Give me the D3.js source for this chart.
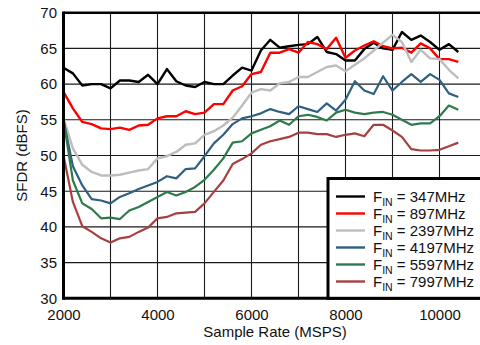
<!DOCTYPE html>
<html>
<head>
<meta charset="utf-8">
<script src="https://cdn.jsdelivr.net/npm/d3@7/dist/d3.min.js"></script>
<style>
  html, body { margin: 0; padding: 0; background: #fff; }
  svg { display: block; font-family: "Liberation Sans", Arial, Helvetica, sans-serif; }
</style>
</head>
<body>
<svg id="chart" width="480" height="345"></svg>
<script>
// ---- Data ----
const sampleRates = [2000, 2200, 2400, 2600, 2800, 3000, 3200, 3400, 3600, 3800,
  4000, 4200, 4400, 4600, 4800, 5000, 5200, 5400, 5600, 5800,
  6000, 6200, 6400, 6600, 6800, 7000, 7200, 7400, 7600, 7800,
  8000, 8200, 8400, 8600, 8800, 9000, 9200, 9400, 9600, 9800,
  10000, 10200, 10400];

const sfdr347 = [62.3, 61.5, 59.8, 60.0, 60.0, 59.4, 60.5, 60.5, 60.3, 61.3,
  60.0, 62.1, 60.4, 59.8, 59.6, 60.3, 60.0, 60.0, 61.2, 62.3,
  61.9, 64.7, 66.2, 65.1, 65.3, 65.5, 65.6, 66.6, 64.5, 64.2,
  63.3, 63.3, 64.9, 65.8, 65.0, 64.8, 67.3, 66.2, 66.8, 65.9,
  64.8, 65.6, 64.5];

const sfdr897 = [58.9, 56.6, 54.7, 54.4, 53.8, 53.7, 53.9, 53.6, 54.2, 54.3,
  55.2, 55.5, 55.5, 56.2, 55.8, 56.0, 57.2, 57.2, 59.1, 59.7,
  61.4, 61.7, 64.4, 64.4, 64.9, 64.4, 65.9, 65.6, 64.9, 66.5,
  63.7, 64.7, 65.4, 66.0, 65.3, 65.0, 65.1, 64.4, 65.7, 65.0,
  63.5, 63.5, 63.1];

const sfdr2397 = [55.2, 51.0, 48.7, 47.7, 47.2, 47.2, 47.3, 47.6, 47.9, 48.1,
  49.6, 49.9, 50.5, 51.5, 51.7, 52.9, 53.4, 54.2, 55.3, 57.0,
  58.8, 59.3, 59.1, 60.1, 60.3, 61.0, 61.0, 61.7, 62.4, 62.6,
  61.8, 62.7, 63.6, 64.7, 65.8, 66.9, 65.9, 63.1, 64.8, 63.6,
  63.5, 62.0, 60.8];

const sfdr4197 = [55.0, 48.5, 45.8, 43.9, 43.7, 43.3, 44.2, 44.7, 45.3, 45.8,
  46.3, 47.1, 46.8, 48.1, 48.2, 49.9, 51.7, 52.9, 54.4, 55.2,
  55.5, 55.9, 56.5, 56.1, 55.8, 56.9, 56.5, 56.1, 57.3, 56.3,
  57.8, 60.4, 59.1, 58.6, 61.1, 59.1, 60.3, 61.4, 60.3, 61.4,
  60.6, 58.7, 58.2];

const sfdr5597 = [55.0, 46.5, 43.3, 42.5, 41.2, 41.3, 41.1, 42.3, 42.8, 43.5,
  44.2, 44.9, 44.4, 44.9, 45.6, 46.6, 48.0, 49.6, 51.8, 52.0,
  53.1, 53.6, 54.1, 54.9, 54.3, 55.5, 55.7, 55.4, 54.9, 56.0,
  56.4, 56.0, 55.8, 56.0, 56.1, 55.7, 55.0, 54.3, 54.5, 54.5,
  55.5, 57.0, 56.4];

const sfdr7997 = [50.0, 43.5, 40.1, 39.3, 38.4, 37.8, 38.4, 38.6, 39.3, 39.9,
  41.2, 41.4, 41.9, 42.0, 42.1, 43.3, 44.9, 46.5, 48.8, 49.5,
  50.3, 51.5, 52.0, 52.3, 52.6, 53.2, 53.2, 53.0, 53.0, 52.6,
  52.9, 53.1, 52.7, 54.3, 54.3, 53.5, 52.6, 50.9, 50.7, 50.7,
  50.8, 51.3, 51.8];

const seriesNames = ["347MHz", "897MHz", "2397MHz", "4197MHz", "5597MHz", "7997MHz"];
const seriesValues = [sfdr347, sfdr897, sfdr2397, sfdr4197, sfdr5597, sfdr7997];
const seriesColors = ["#000000", "#ff0000", "#bdbdbd", "#2f6080", "#2f7a4c", "#a6403f"];

const xTicks = [2000, 4000, 6000, 8000, 10000];
const xGrid = [3000, 4000, 5000, 6000, 7000, 8000, 9000, 10000];
const yTicks = [30, 35, 40, 45, 50, 55, 60, 65, 70];

const xDomain = [2000, 11000];
const yDomain = [30, 70];

// ---- Layout ----
const svg = d3.select("#chart");
const pLeft = 63.5, pTop = 12.7, pRight = 486.5, pBottom = 298.3;

const x = d3.scaleLinear().domain(xDomain).range([pLeft, pRight]);
const y = d3.scaleLinear().domain(yDomain).range([pBottom, pTop]);

// grid
const grid = svg.append("g");
grid.selectAll("line.v").data(xGrid).enter().append("line")
  .attr("x1", d => x(d)).attr("x2", d => x(d))
  .attr("y1", pTop).attr("y2", pBottom)
  .attr("stroke", "#1a1a1a").attr("stroke-width", 1.1);
grid.selectAll("line.h").data(yTicks.slice(1, -1)).enter().append("line")
  .attr("x1", pLeft).attr("x2", pRight)
  .attr("y1", d => y(d)).attr("y2", d => y(d))
  .attr("stroke", "#1a1a1a").attr("stroke-width", 1.1);

// series
const line = d3.line()
  .x((d, i) => x(sampleRates[i]))
  .y(d => y(d));

seriesValues.forEach((vals, k) => {
  svg.append("path")
    .datum(vals)
    .attr("fill", "none")
    .attr("stroke", seriesColors[k])
    .attr("stroke-width", k < 3 ? 2.4 : 2.2)
    .attr("stroke-linejoin", "round")
    .attr("d", line);
});

// frame
svg.append("line").attr("x1", pLeft).attr("x2", pLeft).attr("y1", pTop - 1.3).attr("y2", pBottom + 1.5)
  .attr("stroke", "#000").attr("stroke-width", 3);
svg.append("line").attr("x1", pLeft).attr("x2", pRight).attr("y1", pBottom).attr("y2", pBottom)
  .attr("stroke", "#000").attr("stroke-width", 3);
svg.append("line").attr("x1", pLeft).attr("x2", pRight).attr("y1", pTop).attr("y2", pTop)
  .attr("stroke", "#000").attr("stroke-width", 2.6);

// axes (labels only)
const xAxis = d3.axisBottom(x).tickValues(xTicks).tickSize(0).tickPadding(0).tickFormat(d3.format("d"));
const gx = svg.append("g").attr("transform", `translate(0,${pBottom + 11})`).call(xAxis);
gx.select(".domain").remove();
gx.selectAll("text").attr("font-size", 15).attr("fill", "#111")
  .attr("font-family", "'Liberation Sans', Arial, sans-serif").attr("dy", "0.72em");

const yAxis = d3.axisLeft(y).tickValues(yTicks).tickSize(0).tickPadding(0).tickFormat(d3.format("d"));
const gy = svg.append("g").attr("transform", `translate(${pLeft - 6.5},0)`).call(yAxis);
gy.select(".domain").remove();
gy.selectAll("text").attr("font-size", 15).attr("fill", "#111")
  .attr("font-family", "'Liberation Sans', Arial, sans-serif");

// axis titles
svg.append("text")
  .attr("x", (pLeft + pRight) / 2).attr("y", 337)
  .attr("text-anchor", "middle").attr("font-size", 15).attr("fill", "#111")
  .text("Sample Rate (MSPS)");
svg.append("text")
  .attr("transform", `translate(27,${(pTop + pBottom) / 2}) rotate(-90)`)
  .attr("text-anchor", "middle").attr("font-size", 15).attr("fill", "#111")
  .text("SFDR (dBFS)");

// legend
const lg = svg.append("g");
lg.append("rect")
  .attr("x", 328).attr("y", 178.5).attr("width", 170).attr("height", pBottom - 178.5)
  .attr("fill", "#fff").attr("stroke", "#000").attr("stroke-width", 3);
const rowY = d3.scalePoint().domain(seriesNames).range([196.5, 281.5]);
seriesNames.forEach((name, k) => {
  const yy = rowY(name);
  lg.append("line").attr("x1", 336).attr("x2", 365).attr("y1", yy).attr("y2", yy)
    .attr("stroke", seriesColors[k]).attr("stroke-width", 2.4);
  const t = lg.append("text").attr("x", 373).attr("y", yy + 5.5)
    .attr("font-size", 15).attr("fill", "#111");
  t.append("tspan").text("F");
  t.append("tspan").attr("font-size", 10.5).attr("dy", 4).text("IN");
  t.append("tspan").attr("dy", -4).text(" = " + name);
});
</script>
</body>
</html>
